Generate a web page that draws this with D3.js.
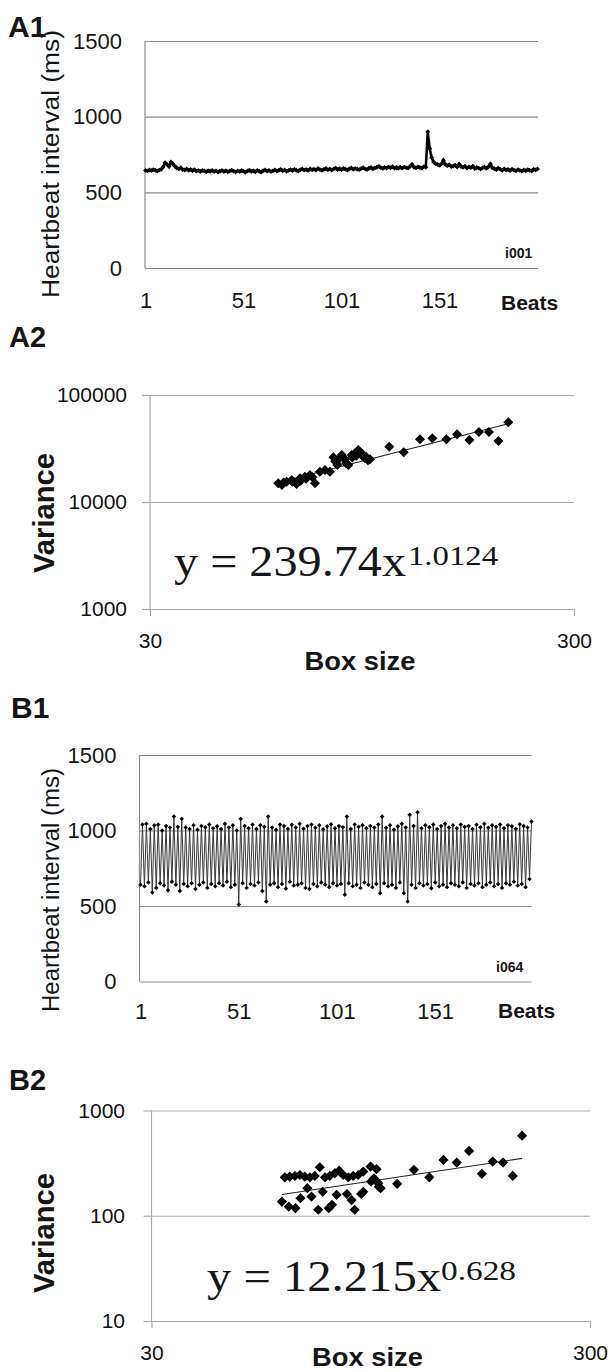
<!DOCTYPE html>
<html>
<head>
<meta charset="utf-8">
<script src="https://cdn.jsdelivr.net/npm/d3@7"></script>
<style>
  body { margin: 0; background: #fff; }
  text { font-family: "Liberation Sans", Arial, sans-serif; fill: #161616; }
</style>
</head>
<body>
<div id="vis"></div>
<script>
var width = 612;
var height = 1372;

// ---- data ----
var beatTicks = [1, 51, 101, 151];
var intervalTicks = [0, 500, 1000, 1500];
var boxTicks = [30, 300];
var a2VarTicks = [1000, 10000, 100000];
var b2VarTicks = [10, 100, 1000];

// A1: heartbeat intervals (ms), subject i001
var a1Intervals = [
  645, 642, 648, 644, 650, 646, 641, 647, 652, 668,
  695, 684, 670, 700, 688, 672, 660, 655, 662, 650,
  648, 654, 646, 651, 643, 649, 640, 645, 638, 644,
  641, 636, 643, 639, 645, 637, 642, 634, 640, 645,
  638, 643, 636, 641, 646, 639, 635, 642, 637, 644,
  640, 633, 641, 646, 638, 642, 636, 645, 639, 634,
  643, 648, 640, 645, 637, 642, 648, 641, 646, 651,
  643, 648, 639, 645, 650, 644, 652, 646, 641, 649,
  654, 647, 651, 645, 656, 649, 653, 647, 658, 650,
  646, 652, 657, 649, 654, 648, 655, 660, 651, 656,
  650, 657, 653, 648, 655, 661, 652, 658, 654, 650,
  657, 662, 655, 651, 659, 664, 656, 661, 666, 672,
  663, 658, 665, 660, 667, 662, 669, 660, 664, 658,
  666, 661, 668, 663, 660, 672, 685, 666, 662, 668,
  664, 660, 670, 665, 900, 790, 730, 700, 690, 685,
  678, 688, 712, 684, 676, 682, 670, 674, 680, 668,
  686, 671, 665, 673, 660, 668, 663, 672, 657, 664,
  660, 655, 662, 666, 658, 670, 688, 662, 656, 650,
  660, 652, 646, 655, 648, 651, 644, 653, 647, 642,
  650, 645, 640, 648, 643, 650, 646, 641, 652, 648,
  655
];

// B1: heartbeat intervals (ms), subject i064
var b1Intervals = [
  640, 1040, 630, 1045, 655, 1010, 590, 1035, 620, 1040, 650, 1000, 635, 1030, 605, 1020, 660, 1092, 640, 1025,
  600, 1077, 645, 1020, 630, 1010, 650, 1035, 612, 1005, 640, 1030, 655, 1022, 620, 1040, 645, 1015, 630, 1028,
  650, 1010, 635, 1045, 660, 1020, 625, 1035, 640, 1000, 510, 1077, 650, 1030, 620, 1015, 645, 1040, 635, 1010,
  655, 1035, 600, 1025, 530, 1092, 640, 1020, 650, 1005, 625, 1040, 645, 1030, 615, 1010, 660, 1038, 635, 1020,
  640, 1045, 650, 1012, 620, 1030, 613, 1040, 645, 1018, 630, 1035, 655, 1008, 640, 1028, 625, 1042, 650, 1015,
  635, 1030, 645, 1022, 575, 1092, 650, 1010, 630, 1040, 640, 1025, 620, 1035, 655, 1015, 640, 1030, 625, 1020,
  645, 1040, 585, 1092, 650, 1018, 630, 1035, 640, 1005, 620, 1028, 655, 1045, 585, 1020, 530, 1104, 640, 1030,
  620, 1121, 650, 1015, 635, 1035, 645, 1022, 618, 1040, 655, 1010, 630, 1030, 640, 1045, 625, 1020, 650, 1035,
  640, 1015, 630, 1040, 655, 1025, 620, 1030, 645, 1010, 635, 1038, 650, 1022, 625, 1045, 640, 1018, 655, 1035,
  630, 1025, 645, 1040, 620, 1015, 650, 1035, 640, 1028, 660, 1012, 635, 1042, 645, 1030, 625, 1020, 678, 1059
];

// A2: box size vs variance
var a2Box = [60.2, 61.4, 62, 63.0, 64.8, 65, 66.5, 67.8, 68, 69.6,
  70, 71.5, 72.5, 73.5, 75.5, 77.6, 79.7, 81.2, 82, 83.0,
  84, 85.0, 86.5, 87, 88.1, 89.7, 90, 91.3, 92, 93.0,
  94.7, 95, 96.4, 97, 98, 99.1, 110, 119, 130, 139,
  150, 159, 170, 179, 189, 199, 210];
var a2Var = [14950, 14410, 15200, 15480, 16060, 15500, 14730, 16650, 15800, 17240,
  16500, 17880, 17000, 14950, 19200, 19900, 19200, 26200, 24000, 22200,
  25500, 27500, 25100, 23000, 22200, 27500, 26000, 28500, 27000, 30600,
  28500, 27000, 25600, 26500, 24500, 25100, 32900, 29100, 38500, 39400,
  38500, 42900, 38000, 45100, 45100, 37200, 55600];
var a2Fit = [239.74, 1.0124];

// B2: box size vs variance
var b2Box = [60.4, 62.0, 63.7, 65.4, 67.1, 68.9, 70.7, 72.6, 74.6, 76.5,
  78.6, 80.4, 82.1, 84.3, 86.5, 88.8, 91.2, 94.8, 97.8, 96.5,
  98.7, 99.9, 109, 119, 129, 139, 149, 159, 170, 180,
  190, 200, 210,
  59.5, 61.7, 63.9, 65.6, 68.0, 69.5, 72.0, 73.7, 76.1, 77.4,
  79.3, 83.7, 85.8, 87.2, 90.2, 91.2, 95.0, 99.0];
var b2Var = [232, 235, 239, 244, 235, 232, 239, 289, 232, 239,
  254, 268, 244, 232, 239, 244, 263, 293, 277, 227,
  204, 183, 201, 273, 232, 339, 320, 413, 250, 327,
  320, 239, 577,
  136, 122, 118, 147, 183, 152, 114, 169, 118, 127,
  158, 161, 141, 114, 161, 169, 211, 189];
var b2Fit = [12.215, 0.628];

var svg = d3.select("#vis")
  .append("svg")
  .attr("width", width)
  .attr("height", height)
  .style("background-color", "white");

function label(txt, x, y, size, opts) {
  opts = opts || {};
  var t = svg.append("text")
    .attr("x", x).attr("y", y)
    .style("font-size", size + "px")
    .style("font-weight", opts.bold ? "bold" : "normal")
    .attr("text-anchor", opts.anchor || "start")
    .text(txt);
  if (opts.family) t.style("font-family", opts.family);
  if (opts.len) t.attr("textLength", opts.len).attr("lengthAdjust", "spacingAndGlyphs");
  if (opts.rotate) t.attr("transform", `rotate(-90, ${x}, ${y})`).attr("dy", "0.35em");
  return t;
}

// heartbeat series panel (A1, B1)
function heartPanel(c) {
  var x = d3.scaleLinear().domain([1, c.values.length]).range([c.x0, c.x1]);
  var y = d3.scaleLinear().domain([0, 1500]).range([c.yBottom, c.yTop]);
  var g = svg.append("g");

  var yAxis = g.append("g")
    .attr("transform", `translate(${c.left},0)`)
    .call(d3.axisLeft(y).tickValues(intervalTicks).tickSize(-(c.right - c.left))
      .tickPadding(c.pad).tickFormat(d3.format("d")));
  yAxis.select(".domain").remove();
  yAxis.selectAll("line").style("stroke", "#8c8c8c").style("stroke-width", 1.2);
  yAxis.selectAll("text").style("font-size", "22px");

  g.append("line")
    .attr("x1", c.left).attr("x2", c.left)
    .attr("y1", c.yTop).attr("y2", c.yBottom)
    .style("stroke", "#8c8c8c").style("stroke-width", 1.2);

  var xAxis = g.append("g")
    .attr("transform", `translate(0,${c.yBottom})`)
    .call(d3.axisBottom(x).tickValues(beatTicks).tickSize(0).tickFormat(d3.format("d")));
  xAxis.select(".domain").remove();
  xAxis.selectAll("text").attr("dy", null).attr("y", c.tickY).style("font-size", "22px");

  var line = d3.line().x((d, i) => x(i + 1)).y(d => y(d));
  g.append("path")
    .datum(c.values)
    .attr("d", line)
    .attr("fill", "none")
    .attr("stroke", c.stroke)
    .attr("stroke-width", c.lineWidth);

  g.selectAll(".mk")
    .data(c.values)
    .join("path")
    .attr("d", d3.symbol(d3.symbolSquare, c.marker))
    .attr("transform", (d, i) => `translate(${x(i + 1)},${y(d)}) rotate(45)`)
    .attr("fill", "#000");
}

// log-log variance panel (A2, B2)
function logPanel(c) {
  var x = d3.scaleLog().domain([30, 300]).range([c.left, c.right]);
  var y = d3.scaleLog().domain(c.yDomain).range([c.yBottom, c.yTop]);
  var g = svg.append("g");

  var grid = g.append("g")
    .attr("transform", `translate(${c.left},0)`)
    .call(d3.axisLeft(y).tickValues(c.yTicks).tickSize(-(c.right - c.left)).tickFormat(""));
  grid.select(".domain").remove();
  grid.selectAll("line").style("stroke", "#ababab").style("stroke-width", 1.2);

  var yAxis = g.append("g")
    .attr("transform", `translate(${c.left},0)`)
    .call(d3.axisLeft(y).tickValues(c.yTicks).tickSize(8).tickPadding(c.pad - 8).tickFormat(d3.format("d")));
  yAxis.select(".domain").attr("d", `M0,${c.yTop}V${c.yBottom}`).style("stroke", "#ababab").style("stroke-width", 1.2);
  yAxis.selectAll("line").style("stroke", "#ababab").style("stroke-width", 1.2);
  yAxis.selectAll("text").style("font-size", "21px").style("fill", "#111");

  var xAxis = g.append("g")
    .attr("transform", `translate(0,${c.yBottom})`)
    .call(d3.axisBottom(x).tickValues(boxTicks).tickSize(7).tickFormat(d3.format("d")));
  xAxis.select(".domain").remove();
  xAxis.selectAll("line").style("stroke", "#ababab").style("stroke-width", 1.2);
  xAxis.selectAll("text").attr("dy", null).attr("y", c.tickY).style("font-size", "21px").style("fill", "#111");

  // power-law fit line across the data range
  var ext = d3.extent(c.box);
  var fitLine = ext.map(b => [b, c.fit[0] * Math.pow(b, c.fit[1])]);
  g.append("path")
    .datum(fitLine)
    .attr("d", d3.line().x(d => x(d[0])).y(d => y(d[1])))
    .attr("stroke", "#222")
    .attr("stroke-width", 1.1)
    .attr("fill", "none");

  g.selectAll(".pt")
    .data(c.box)
    .join("path")
    .attr("d", d3.symbol(d3.symbolSquare, c.marker))
    .attr("transform", (d, i) => `translate(${x(d)},${y(c.vars[i])}) rotate(45)`)
    .attr("fill", "#000");
}

// ---- A1 ----
heartPanel({
  values: a1Intervals, left: 145, right: 538, yTop: 41, yBottom: 268,
  x0: 145.5, x1: 537.5, pad: 23, tickY: 40, stroke: "#000", lineWidth: 2.6, marker: 12
});
label("A1", 8, 37, 30, { bold: true });
label("Beats", 501, 310, 21, { bold: true });
label("i001", 505, 258, 14, { bold: true });
label("Heartbeat interval (ms)", 51, 164, 23, { rotate: true, anchor: "middle", len: 268 });

// ---- A2 ----
logPanel({
  box: a2Box, vars: a2Var, fit: a2Fit, yDomain: [1000, 100000], yTicks: a2VarTicks,
  left: 150, right: 574, yTop: 395, yBottom: 609, pad: 23, tickY: 39, marker: 50
});
label("A2", 9, 347, 29, { bold: true });
label("Variance", 44, 513, 29, { bold: true, rotate: true, anchor: "middle", len: 120 });
label("Box size", 360, 670, 26, { bold: true, anchor: "middle", len: 111 });
label("y = 239.74x", 174, 576, 44, { family: "'Liberation Serif', serif", len: 232 });
label("1.0124", 408, 565, 28, { family: "'Liberation Serif', serif", len: 90 });

// ---- B1 ----
heartPanel({
  values: b1Intervals, left: 139.5, right: 531.5, yTop: 755, yBottom: 981.5,
  x0: 140.5, x1: 531.5, pad: 23, tickY: 37.5, stroke: "#3a3a3a", lineWidth: 1, marker: 10
});
label("B1", 11, 718, 30, { bold: true });
label("Beats", 498, 1018, 21, { bold: true });
label("i064", 496, 972, 14, { bold: true });
label("Heartbeat interval (ms)", 51, 890, 23, { rotate: true, anchor: "middle", len: 244 });

// ---- B2 ----
logPanel({
  box: b2Box, vars: b2Var, fit: b2Fit, yDomain: [10, 1000], yTicks: b2VarTicks,
  left: 151.5, right: 590, yTop: 1110.5, yBottom: 1321, pad: 26.5, tickY: 39, marker: 52
});
label("B2", 9, 1090, 29, { bold: true });
label("Variance", 44, 1233, 29, { bold: true, rotate: true, anchor: "middle", len: 120 });
label("Box size", 367.5, 1366, 26, { bold: true, anchor: "middle", len: 111 });
label("y = 12.215x", 207, 1291, 44, { family: "'Liberation Serif', serif", len: 234 });
label("0.628", 441, 1280, 28, { family: "'Liberation Serif', serif", len: 75 });
</script>
</body>
</html>
